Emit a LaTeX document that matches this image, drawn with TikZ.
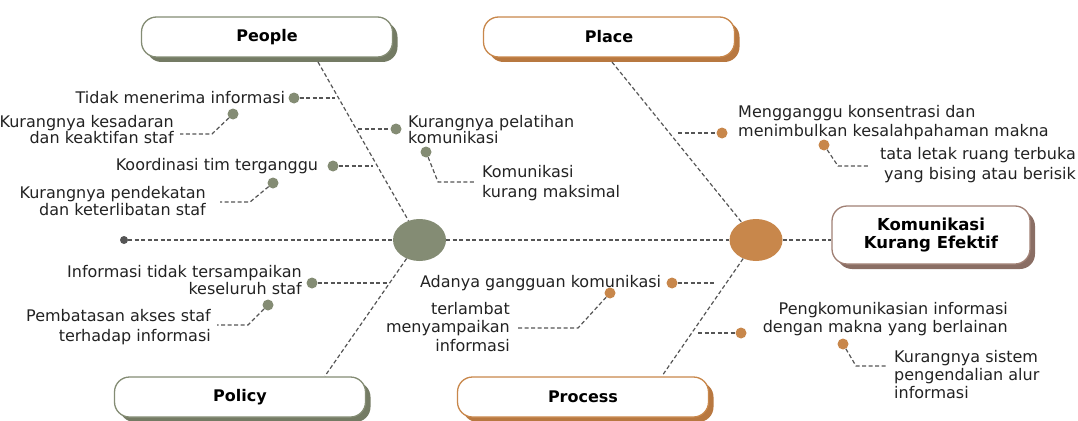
\documentclass[tikz,border=0pt]{standalone}
\usepackage{fontspec}
\setmainfont{DejaVu Sans}
\usetikzlibrary{positioning,shapes.geometric,shadows}

\definecolor{sage}{RGB}{132,140,116}
\definecolor{sagedark}{RGB}{116,123,100}
\definecolor{copper}{RGB}{200,135,75}
\definecolor{copperdark}{RGB}{184,120,64}
\definecolor{mauve}{RGB}{160,128,116}
\definecolor{mauvedark}{RGB}{138,110,100}
\definecolor{bonegray}{RGB}{85,85,85}
\definecolor{ink}{RGB}{34,34,34}

\begin{document}
\begin{tikzpicture}[x=1pt,y=-1pt,
    cat/.style 2 args={draw=#1,line width=1.3pt,fill=white,rounded corners=15pt,
      general shadow={fill=#2,shadow xshift=5pt,shadow yshift=-5pt},
      minimum width=251pt,minimum height=40pt,inner sep=0pt,text=black,
      font=\bfseries\fontsize{16}{19}\selectfont},
    hub/.style={ellipse,fill=#1,minimum width=53pt,minimum height=42pt,inner sep=0pt},
    pin/.style={circle,fill=#1,minimum size=11pt,inner sep=0pt},
    lbl/.style={inner sep=0pt,text=ink,font=\fontsize{16}{#1}\selectfont},
    lbl/.default=17.5,
    bone/.style={draw=bonegray,line width=1.2pt,dash pattern=on 4pt off 2.5pt}]
  \useasboundingbox (0,0) rectangle (1078,420);

  \node[cat={sage}{sagedark}]     (people)  at (267,37)  {People};
  \node[cat={copper}{copperdark}] (place)   at (609,37)  {Place};
  \node[cat={sage}{sagedark}]     (policy)  at (240,397) {Policy};
  \node[cat={copper}{copperdark}] (process) at (583,397) {Process};
  \node[cat={mauve}{mauvedark},minimum width=198pt,minimum height=58pt,
        align=center,font=\bfseries\fontsize{16.5}{18.5}\selectfont]
        (effect) at (931,235) {Komunikasi\\Kurang Efektif};

  \node[hub=sage]   (hubA) at (419.5,240) {};
  \node[hub=copper] (hubB) at (756,240)   {};
  \node[pin=bonegray,minimum size=8pt] (tail) at (124,240) {};

  \coordinate (pplfoot) at (318,62);
  \coordinate (plcfoot) at (612,62);
  \coordinate (polhead) at (325,376);
  \coordinate (prchead) at (662,376);

  \draw[bone] (tail) -- (hubA) -- (hubB) -- (hubB -| effect.west);
  \draw[bone] (pplfoot) -- (hubA);
  \draw[bone] (plcfoot) -- (hubB);
  \draw[bone] (hubA) -- (polhead);
  \draw[bone] (hubB) -- (prchead);

  % people
  \node[pin=sage] (p1) at (294,98) {};
  \node[lbl,left=3pt of p1] {Tidak menerima informasi};
  \coordinate (p1b) at (335,98);
  \draw[bone] (p1) -- (p1b);

  \node[pin=sage] (p2) at (233,114) {};
  \coordinate (p2k) at (212,134);
  \coordinate (p2e) at (180,134);
  \draw[bone] (p2) -- (p2k) -- (p2e);
  \node[lbl=16,align=right,anchor=east] at (174,129.5) {Kurangnya kesadaran\\dan keaktifan staf};

  \node[pin=sage] (p3) at (333,166) {};
  \node[lbl,left=9pt of p3] {Koordinasi tim terganggu};
  \coordinate (p3b) at (373,166);
  \draw[bone] (p3) -- (p3b);

  \node[pin=sage] (p4) at (273,183) {};
  \coordinate (p4k) at (250,202);
  \coordinate (p4e) at (220,202);
  \draw[bone] (p4) -- (p4k) -- (p4e);
  \node[lbl=16.5,align=right,anchor=east] at (206,201) {Kurangnya pendekatan\\dan keterlibatan staf};

  \node[pin=sage] (p5) at (396,129) {};
  \coordinate (p5b) at (358,129);
  \draw[bone] (p5b) -- (p5);
  \node[lbl=16,align=left,anchor=west] at (408,129.5) {Kurangnya pelatihan\\komunikasi};

  \node[pin=sage] (p6) at (426,152) {};
  \coordinate (p6k) at (438,182);
  \coordinate (p6e) at (474,182);
  \draw[bone] (p6) -- (p6k) -- (p6e);
  \node[lbl=20,align=left,anchor=west] at (482,183) {Komunikasi\\kurang maksimal};

  % place
  \node[pin=copper] (q1) at (722,133) {};
  \coordinate (q1b) at (678,133);
  \draw[bone] (q1b) -- (q1);
  \node[lbl=19,align=left,anchor=west] at (738,122.5) {Mengganggu konsentrasi dan\\menimbulkan kesalahpahaman makna};

  \node[pin=copper] (q2) at (824,145) {};
  \coordinate (q2k) at (838,166);
  \coordinate (q2e) at (868,166);
  \draw[bone] (q2) -- (q2k) -- (q2e);
  \node[lbl=20,align=right,anchor=east] at (1076,165) {tata letak ruang terbuka\\yang bising atau berisik};

  % policy
  \node[pin=sage] (r1) at (312,283) {};
  \coordinate (r1b) at (388,283);
  \draw[bone] (r1) -- (r1b);
  \node[lbl=16.5,align=right,anchor=east] at (302,280) {Informasi tidak tersampaikan\\keseluruh staf};

  \node[pin=sage] (r2) at (268,305) {};
  \coordinate (r2k) at (248,325);
  \coordinate (r2e) at (217,325);
  \draw[bone] (r2) -- (r2k) -- (r2e);
  \node[lbl=20,align=right,anchor=east] at (211,327) {Pembatasan akses staf\\terhadap informasi};

  % process
  \node[pin=copper] (s1) at (672,283) {};
  \node[lbl,left=5pt of s1] {Adanya gangguan komunikasi};
  \coordinate (s1b) at (716,283);
  \draw[bone] (s1) -- (s1b);

  \node[pin=copper] (s2) at (610,293) {};
  \coordinate (s2k) at (578,328);
  \coordinate (s2e) at (516,328);
  \draw[bone] (s2) -- (s2k) -- (s2e);
  \node[lbl=18.5,align=right,anchor=east] at (510,327) {terlambat\\menyampaikan\\informasi};

  \node[pin=copper] (s3) at (741,333) {};
  \coordinate (s3b) at (698,333);
  \draw[bone] (s3b) -- (s3);
  \node[lbl=18,align=right,anchor=east] at (1008,319) {Pengkomunikasian informasi\\dengan makna yang berlainan};

  \node[pin=copper] (s4) at (843,344) {};
  \coordinate (s4k) at (856,366);
  \coordinate (s4e) at (888,366);
  \draw[bone] (s4) -- (s4k) -- (s4e);
  \node[lbl=18,align=left,anchor=west] at (894,375) {Kurangnya sistem\\pengendalian alur\\informasi};
\end{tikzpicture}
\end{document}
